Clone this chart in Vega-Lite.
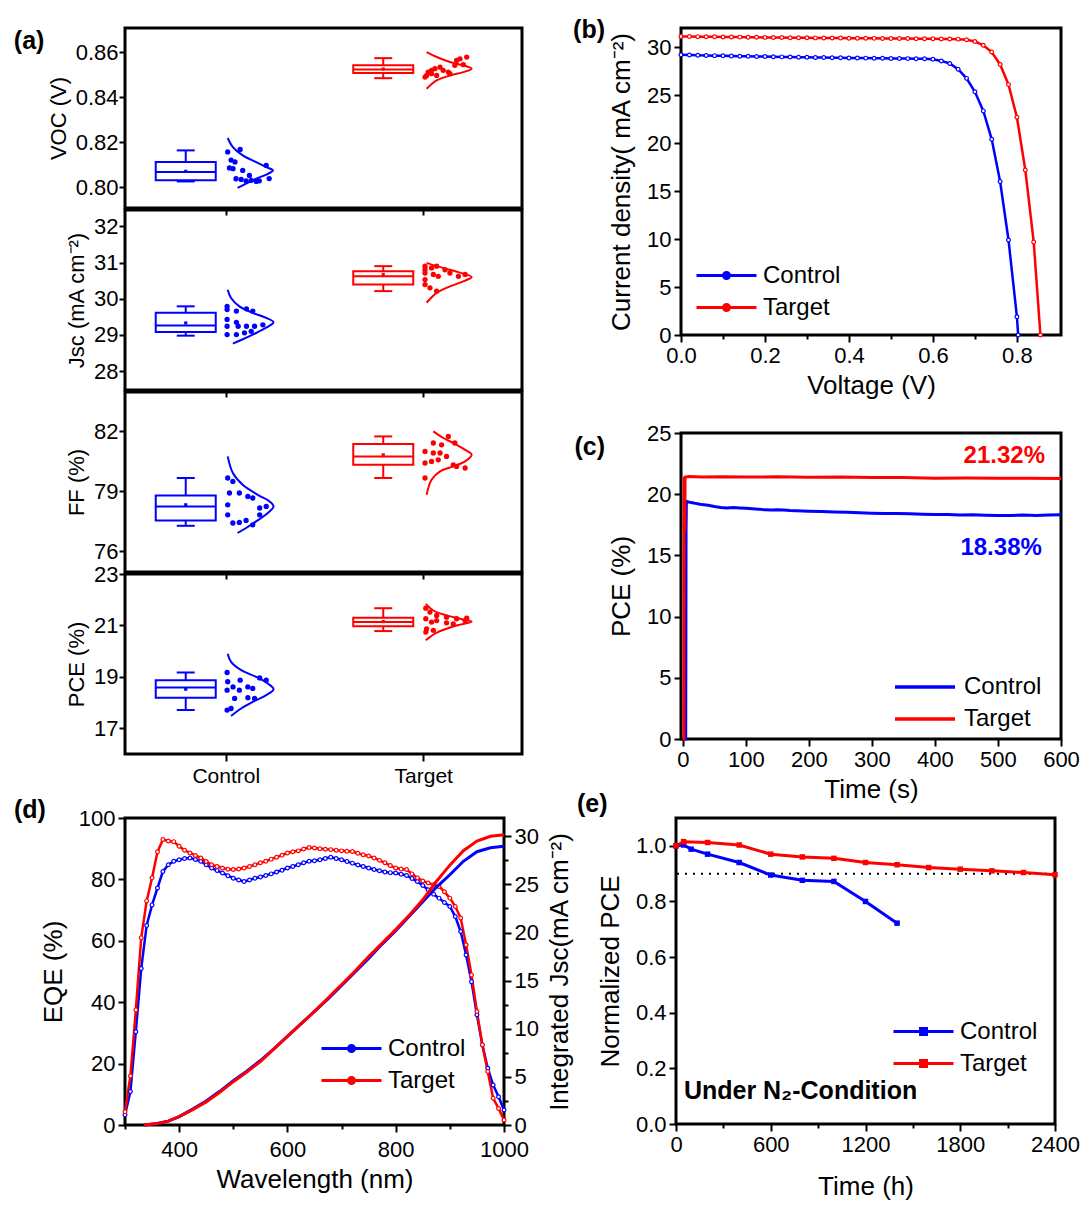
{
"$schema": "https://vega.github.io/schema/vega-lite/v6.json",
"padding": {"left": 12, "top": 16, "right": 0, "bottom": 0},
"background": "white",
"config": {
 "font": "Liberation Sans",
 "view": {"stroke": "black", "strokeWidth": 3},
 "axis": {"domain": false, "grid": false, "tickColor": "black", "tickWidth": 2, "tickSize": 7, "labelFontSize": 22, "labelColor": "black", "titleFontSize": 26, "titleFontWeight": "normal", "titleColor": "black", "labelPadding": 3, "labelOverlap": false, "labelFlush": false},
 "axisX": {"titlePadding": 6},
 "axisY": {"titlePadding": 12},
 "legend": {"labelFontSize": 24, "labelColor": "black", "padding": 0, "title": null},
 "line": {"strokeCap": "butt"}
},
"datasets": {
 "boxVoc": [
  {"s":"Control","g":1,"lo":0.8025,"q1":0.803,"med":0.8067,"q3":0.8111,"hi":0.8163,"mean":0.807},
  {"s":"Target","g":2,"lo":0.8484,"q1":0.8507,"med":0.8523,"q3":0.8541,"hi":0.8573,"mean":0.8525}],
 "boxJsc": [
  {"s":"Control","g":1,"lo":28.98,"q1":29.08,"med":29.26,"q3":29.61,"hi":29.79,"mean":29.33},
  {"s":"Target","g":2,"lo":30.21,"q1":30.39,"med":30.62,"q3":30.76,"hi":30.90,"mean":30.67}],
 "boxFF": [
  {"s":"Control","g":1,"lo":77.28,"q1":77.55,"med":78.25,"q3":78.8,"hi":79.67,"mean":78.33},
  {"s":"Target","g":2,"lo":79.67,"q1":80.33,"med":80.75,"q3":81.37,"hi":81.75,"mean":80.83}],
 "boxPCE": [
  {"s":"Control","g":1,"lo":17.71,"q1":18.19,"med":18.59,"q3":18.87,"hi":19.17,"mean":18.52},
  {"s":"Target","g":2,"lo":20.78,"q1":20.97,"med":21.13,"q3":21.30,"hi":21.67,"mean":21.15}],
 "dotsVoc": [
  {"s":"Control","x":1.01,"v":0.8156},{"s":"Control","x":1.073,"v":0.8167},{"s":"Control","x":1.027,"v":0.812},{"s":"Control","x":1.047,"v":0.8112},{"s":"Control","x":1.019,"v":0.8085},{"s":"Control","x":1.037,"v":0.8082},{"s":"Control","x":1.086,"v":0.8074},{"s":"Control","x":1.12,"v":0.8052},{"s":"Control","x":1.205,"v":0.8096},{"s":"Control","x":1.052,"v":0.8037},{"s":"Control","x":1.078,"v":0.8034},{"s":"Control","x":1.103,"v":0.8027},{"s":"Control","x":1.129,"v":0.803},{"s":"Control","x":1.154,"v":0.8025},{"s":"Control","x":1.17,"v":0.8028},{"s":"Control","x":1.22,"v":0.8038},
  {"s":"Target","x":2.009,"v":0.8489},{"s":"Target","x":2.017,"v":0.8496},{"s":"Target","x":2.025,"v":0.8511},{"s":"Target","x":2.042,"v":0.8519},{"s":"Target","x":2.059,"v":0.8526},{"s":"Target","x":2.085,"v":0.8533},{"s":"Target","x":2.101,"v":0.8519},{"s":"Target","x":2.127,"v":0.8511},{"s":"Target","x":2.135,"v":0.8504},{"s":"Target","x":2.068,"v":0.8496},{"s":"Target","x":2.16,"v":0.8541},{"s":"Target","x":2.169,"v":0.8563},{"s":"Target","x":2.186,"v":0.857},{"s":"Target","x":2.22,"v":0.8578},{"s":"Target","x":2.203,"v":0.8544},{"s":"Target","x":2.042,"v":0.8504}],
 "dotsJsc": [
  {"s":"Control","x":1.007,"v":29.79},{"s":"Control","x":1.007,"v":29.7},{"s":"Control","x":1.054,"v":29.66},{"s":"Control","x":1.105,"v":29.72},{"s":"Control","x":1.137,"v":29.66},{"s":"Control","x":1.007,"v":29.43},{"s":"Control","x":1.054,"v":29.35},{"s":"Control","x":1.007,"v":29.24},{"s":"Control","x":1.063,"v":29.24},{"s":"Control","x":1.105,"v":29.24},{"s":"Control","x":1.146,"v":29.24},{"s":"Control","x":1.188,"v":29.28},{"s":"Control","x":1.007,"v":29.01},{"s":"Control","x":1.054,"v":29.01},{"s":"Control","x":1.095,"v":29.06},{"s":"Control","x":1.129,"v":29.1},
  {"s":"Target","x":2.009,"v":30.9},{"s":"Target","x":2.009,"v":30.8},{"s":"Target","x":2.009,"v":30.71},{"s":"Target","x":2.042,"v":30.85},{"s":"Target","x":2.068,"v":30.9},{"s":"Target","x":2.11,"v":30.8},{"s":"Target","x":2.051,"v":30.67},{"s":"Target","x":2.076,"v":30.62},{"s":"Target","x":2.135,"v":30.71},{"s":"Target","x":2.178,"v":30.62},{"s":"Target","x":2.212,"v":30.67},{"s":"Target","x":2.009,"v":30.39},{"s":"Target","x":2.034,"v":30.3},{"s":"Target","x":2.068,"v":30.21},{"s":"Target","x":2.009,"v":30.53}],
 "dotsFF": [
  {"s":"Control","x":1.01,"v":79.67},{"s":"Control","x":1.036,"v":79.5},{"s":"Control","x":1.019,"v":78.92},{"s":"Control","x":1.069,"v":78.92},{"s":"Control","x":1.112,"v":78.75},{"s":"Control","x":1.137,"v":78.67},{"s":"Control","x":1.01,"v":78.33},{"s":"Control","x":1.172,"v":78.17},{"s":"Control","x":1.205,"v":78.25},{"s":"Control","x":1.01,"v":77.83},{"s":"Control","x":1.036,"v":77.42},{"s":"Control","x":1.069,"v":77.45},{"s":"Control","x":1.103,"v":77.55},{"s":"Control","x":1.137,"v":77.33},{"s":"Control","x":1.172,"v":77.83},
  {"s":"Target","x":2.127,"v":81.75},{"s":"Target","x":2.051,"v":81.42},{"s":"Target","x":2.093,"v":81.33},{"s":"Target","x":2.009,"v":81.0},{"s":"Target","x":2.051,"v":80.92},{"s":"Target","x":2.085,"v":80.92},{"s":"Target","x":2.118,"v":80.75},{"s":"Target","x":2.009,"v":80.42},{"s":"Target","x":2.042,"v":80.5},{"s":"Target","x":2.076,"v":80.58},{"s":"Target","x":2.16,"v":81.42},{"s":"Target","x":2.152,"v":80.33},{"s":"Target","x":2.212,"v":80.17},{"s":"Target","x":2.169,"v":80.25},{"s":"Target","x":2.009,"v":79.67}],
 "dotsPCE": [
  {"s":"Control","x":1.007,"v":19.17},{"s":"Control","x":1.01,"v":18.81},{"s":"Control","x":1.073,"v":18.87},{"s":"Control","x":1.172,"v":18.96},{"s":"Control","x":1.205,"v":18.87},{"s":"Control","x":1.007,"v":18.48},{"s":"Control","x":1.037,"v":18.61},{"s":"Control","x":1.069,"v":18.48},{"s":"Control","x":1.112,"v":18.61},{"s":"Control","x":1.137,"v":18.55},{"s":"Control","x":1.045,"v":18.16},{"s":"Control","x":1.112,"v":18.19},{"s":"Control","x":1.146,"v":18.16},{"s":"Control","x":1.007,"v":17.71},{"s":"Control","x":1.027,"v":17.77},
  {"s":"Target","x":2.013,"v":21.67},{"s":"Target","x":2.034,"v":21.52},{"s":"Target","x":2.068,"v":21.39},{"s":"Target","x":2.118,"v":21.32},{"s":"Target","x":2.169,"v":21.26},{"s":"Target","x":2.22,"v":21.28},{"s":"Target","x":2.013,"v":21.26},{"s":"Target","x":2.042,"v":21.13},{"s":"Target","x":2.068,"v":21.19},{"s":"Target","x":2.118,"v":21.1},{"s":"Target","x":2.152,"v":21.06},{"s":"Target","x":2.017,"v":20.87},{"s":"Target","x":2.051,"v":20.81},{"s":"Target","x":2.013,"v":20.74},{"s":"Target","x":2.212,"v":21.19}],
 "curveVoc": [
  {"s":"Control","i":0,"x":1.01,"v":0.8218},{"s":"Control","i":1,"x":1.036,"v":0.8178},{"s":"Control","i":2,"x":1.086,"v":0.8141},{"s":"Control","i":3,"x":1.154,"v":0.8111},{"s":"Control","i":4,"x":1.205,"v":0.8089},{"s":"Control","i":5,"x":1.239,"v":0.8074},{"s":"Control","i":6,"x":1.213,"v":0.8059},{"s":"Control","i":7,"x":1.154,"v":0.8037},{"s":"Control","i":8,"x":1.103,"v":0.8015},{"s":"Control","i":9,"x":1.06,"v":0.7996},
  {"s":"Target","i":0,"x":2.017,"v":0.86},{"s":"Target","i":1,"x":2.068,"v":0.8578},{"s":"Target","i":2,"x":2.135,"v":0.8556},{"s":"Target","i":3,"x":2.203,"v":0.8541},{"s":"Target","i":4,"x":2.245,"v":0.8526},{"s":"Target","i":5,"x":2.203,"v":0.8511},{"s":"Target","i":6,"x":2.135,"v":0.8496},{"s":"Target","i":7,"x":2.068,"v":0.8474},{"s":"Target","i":8,"x":2.017,"v":0.8437}],
 "curveJsc": [
  {"s":"Control","i":0,"x":1.01,"v":30.25},{"s":"Control","i":1,"x":1.027,"v":30.02},{"s":"Control","i":2,"x":1.069,"v":29.79},{"s":"Control","i":3,"x":1.137,"v":29.61},{"s":"Control","i":4,"x":1.205,"v":29.47},{"s":"Control","i":5,"x":1.242,"v":29.35},{"s":"Control","i":6,"x":1.205,"v":29.2},{"s":"Control","i":7,"x":1.137,"v":29.01},{"s":"Control","i":8,"x":1.078,"v":28.86},{"s":"Control","i":9,"x":1.036,"v":28.76},
  {"s":"Target","i":0,"x":2.017,"v":30.99},{"s":"Target","i":1,"x":2.068,"v":30.9},{"s":"Target","i":2,"x":2.135,"v":30.8},{"s":"Target","i":3,"x":2.203,"v":30.69},{"s":"Target","i":4,"x":2.245,"v":30.6},{"s":"Target","i":5,"x":2.203,"v":30.48},{"s":"Target","i":6,"x":2.135,"v":30.34},{"s":"Target","i":7,"x":2.068,"v":30.16},{"s":"Target","i":8,"x":2.017,"v":29.89}],
 "curveFF": [
  {"s":"Control","i":0,"x":1.01,"v":80.75},{"s":"Control","i":1,"x":1.036,"v":79.92},{"s":"Control","i":2,"x":1.086,"v":79.33},{"s":"Control","i":3,"x":1.162,"v":78.83},{"s":"Control","i":4,"x":1.222,"v":78.5},{"s":"Control","i":5,"x":1.242,"v":78.25},{"s":"Control","i":6,"x":1.213,"v":77.92},{"s":"Control","i":7,"x":1.154,"v":77.5},{"s":"Control","i":8,"x":1.103,"v":77.17},{"s":"Control","i":9,"x":1.06,"v":76.92},
  {"s":"Target","i":0,"x":2.051,"v":82.0},{"s":"Target","i":1,"x":2.102,"v":81.67},{"s":"Target","i":2,"x":2.152,"v":81.42},{"s":"Target","i":3,"x":2.212,"v":81.08},{"s":"Target","i":4,"x":2.245,"v":80.83},{"s":"Target","i":5,"x":2.212,"v":80.5},{"s":"Target","i":6,"x":2.152,"v":80.25},{"s":"Target","i":7,"x":2.085,"v":80.0},{"s":"Target","i":8,"x":2.042,"v":79.58},{"s":"Target","i":9,"x":2.017,"v":78.83}],
 "curvePCE": [
  {"s":"Control","i":0,"x":1.01,"v":19.9},{"s":"Control","i":1,"x":1.027,"v":19.58},{"s":"Control","i":2,"x":1.078,"v":19.26},{"s":"Control","i":3,"x":1.154,"v":19.0},{"s":"Control","i":4,"x":1.213,"v":18.74},{"s":"Control","i":5,"x":1.242,"v":18.52},{"s":"Control","i":6,"x":1.205,"v":18.29},{"s":"Control","i":7,"x":1.137,"v":18.03},{"s":"Control","i":8,"x":1.078,"v":17.77},{"s":"Control","i":9,"x":1.027,"v":17.48},
  {"s":"Target","i":0,"x":2.013,"v":21.84},{"s":"Target","i":1,"x":2.051,"v":21.58},{"s":"Target","i":2,"x":2.118,"v":21.39},{"s":"Target","i":3,"x":2.186,"v":21.26},{"s":"Target","i":4,"x":2.245,"v":21.15},{"s":"Target","i":5,"x":2.186,"v":21.03},{"s":"Target","i":6,"x":2.118,"v":20.87},{"s":"Target","i":7,"x":2.059,"v":20.68},{"s":"Target","i":8,"x":2.013,"v":20.42}],
 "jv": [
  {"s":"Control","v":0,"j":29.2},{"s":"Control","v":0.02,"j":29.18},{"s":"Control","v":0.04,"j":29.16},{"s":"Control","v":0.06,"j":29.14},{"s":"Control","v":0.08,"j":29.12},{"s":"Control","v":0.1,"j":29.1},{"s":"Control","v":0.12,"j":29.08},{"s":"Control","v":0.14,"j":29.06},{"s":"Control","v":0.16,"j":29.05},{"s":"Control","v":0.18,"j":29.03},{"s":"Control","v":0.2,"j":29.02},{"s":"Control","v":0.22,"j":29.0},{"s":"Control","v":0.24,"j":28.99},{"s":"Control","v":0.26,"j":28.97},{"s":"Control","v":0.28,"j":28.96},{"s":"Control","v":0.3,"j":28.95},{"s":"Control","v":0.32,"j":28.93},{"s":"Control","v":0.34,"j":28.92},{"s":"Control","v":0.36,"j":28.9},{"s":"Control","v":0.38,"j":28.89},{"s":"Control","v":0.4,"j":28.88},{"s":"Control","v":0.42,"j":28.87},{"s":"Control","v":0.44,"j":28.86},{"s":"Control","v":0.46,"j":28.85},{"s":"Control","v":0.48,"j":28.84},{"s":"Control","v":0.5,"j":28.83},{"s":"Control","v":0.52,"j":28.82},{"s":"Control","v":0.54,"j":28.81},{"s":"Control","v":0.56,"j":28.8},{"s":"Control","v":0.58,"j":28.79},{"s":"Control","v":0.6,"j":28.74},{"s":"Control","v":0.62,"j":28.57},{"s":"Control","v":0.64,"j":28.3},{"s":"Control","v":0.66,"j":27.7},{"s":"Control","v":0.68,"j":26.75},{"s":"Control","v":0.7,"j":25.35},{"s":"Control","v":0.72,"j":23.36},{"s":"Control","v":0.74,"j":20.4},{"s":"Control","v":0.76,"j":16.0},{"s":"Control","v":0.78,"j":9.9},{"s":"Control","v":0.8,"j":1.9},{"s":"Control","v":0.803,"j":0},
  {"s":"Target","v":0,"j":31.12},{"s":"Target","v":0.02,"j":31.11},{"s":"Target","v":0.04,"j":31.1},{"s":"Target","v":0.06,"j":31.09},{"s":"Target","v":0.08,"j":31.08},{"s":"Target","v":0.1,"j":31.07},{"s":"Target","v":0.12,"j":31.06},{"s":"Target","v":0.14,"j":31.05},{"s":"Target","v":0.16,"j":31.04},{"s":"Target","v":0.18,"j":31.03},{"s":"Target","v":0.2,"j":31.02},{"s":"Target","v":0.22,"j":31.01},{"s":"Target","v":0.24,"j":31.0},{"s":"Target","v":0.26,"j":30.99},{"s":"Target","v":0.28,"j":30.98},{"s":"Target","v":0.3,"j":30.98},{"s":"Target","v":0.32,"j":30.97},{"s":"Target","v":0.34,"j":30.96},{"s":"Target","v":0.36,"j":30.95},{"s":"Target","v":0.38,"j":30.95},{"s":"Target","v":0.4,"j":30.94},{"s":"Target","v":0.42,"j":30.93},{"s":"Target","v":0.44,"j":30.93},{"s":"Target","v":0.46,"j":30.92},{"s":"Target","v":0.48,"j":30.91},{"s":"Target","v":0.5,"j":30.91},{"s":"Target","v":0.52,"j":30.9},{"s":"Target","v":0.54,"j":30.9},{"s":"Target","v":0.56,"j":30.89},{"s":"Target","v":0.58,"j":30.88},{"s":"Target","v":0.6,"j":30.87},{"s":"Target","v":0.62,"j":30.86},{"s":"Target","v":0.64,"j":30.85},{"s":"Target","v":0.66,"j":30.84},{"s":"Target","v":0.68,"j":30.78},{"s":"Target","v":0.7,"j":30.6},{"s":"Target","v":0.72,"j":30.2},{"s":"Target","v":0.74,"j":29.5},{"s":"Target","v":0.76,"j":28.2},{"s":"Target","v":0.78,"j":26.1},{"s":"Target","v":0.8,"j":22.7},{"s":"Target","v":0.82,"j":17.2},{"s":"Target","v":0.84,"j":9.7},{"s":"Target","v":0.856,"j":0}
 ],
 "pce": [
  {"s":"Control","t":0,"p":0},{"s":"Control","t":4.5,"p":0},{"s":"Control","t":5,"p":17.0},{"s":"Control","t":5.5,"p":19.2},{"s":"Control","t":7,"p":19.4},{"s":"Control","t":10,"p":19.35},{"s":"Control","t":15,"p":19.3},{"s":"Control","t":20,"p":19.25},{"s":"Control","t":25,"p":19.2},{"s":"Control","t":30,"p":19.15},{"s":"Control","t":40,"p":19.1},{"s":"Control","t":50,"p":19.0},{"s":"Control","t":60,"p":18.92},{"s":"Control","t":70,"p":18.88},{"s":"Control","t":80,"p":18.92},{"s":"Control","t":90,"p":18.88},{"s":"Control","t":100,"p":18.85},{"s":"Control","t":110,"p":18.82},{"s":"Control","t":120,"p":18.78},{"s":"Control","t":130,"p":18.72},{"s":"Control","t":140,"p":18.7},{"s":"Control","t":150,"p":18.72},{"s":"Control","t":160,"p":18.7},{"s":"Control","t":170,"p":18.66},{"s":"Control","t":180,"p":18.64},{"s":"Control","t":200,"p":18.6},{"s":"Control","t":220,"p":18.58},{"s":"Control","t":240,"p":18.54},{"s":"Control","t":260,"p":18.52},{"s":"Control","t":280,"p":18.48},{"s":"Control","t":300,"p":18.45},{"s":"Control","t":320,"p":18.42},{"s":"Control","t":340,"p":18.42},{"s":"Control","t":360,"p":18.4},{"s":"Control","t":380,"p":18.36},{"s":"Control","t":400,"p":18.34},{"s":"Control","t":420,"p":18.35},{"s":"Control","t":440,"p":18.3},{"s":"Control","t":460,"p":18.32},{"s":"Control","t":480,"p":18.28},{"s":"Control","t":500,"p":18.26},{"s":"Control","t":520,"p":18.26},{"s":"Control","t":540,"p":18.3},{"s":"Control","t":560,"p":18.27},{"s":"Control","t":580,"p":18.3},{"s":"Control","t":600,"p":18.32},
  {"s":"Target","t":0,"p":0},{"s":"Target","t":1.5,"p":0},{"s":"Target","t":2,"p":21.4},{"s":"Target","t":3,"p":17.0},{"s":"Target","t":3.5,"p":21.4},{"s":"Target","t":10,"p":21.45},{"s":"Target","t":30,"p":21.4},{"s":"Target","t":60,"p":21.42},{"s":"Target","t":100,"p":21.4},{"s":"Target","t":150,"p":21.42},{"s":"Target","t":200,"p":21.38},{"s":"Target","t":250,"p":21.4},{"s":"Target","t":300,"p":21.36},{"s":"Target","t":350,"p":21.36},{"s":"Target","t":400,"p":21.3},{"s":"Target","t":450,"p":21.32},{"s":"Target","t":500,"p":21.3},{"s":"Target","t":550,"p":21.3},{"s":"Target","t":600,"p":21.28}
 ],
 "pceText": [
  {"s":"Target","t":510,"p":23.1,"label":"21.32%"},
  {"s":"Control","t":505,"p":15.6,"label":"18.38%"}
 ],
 "eqe": [
  {"s":"Control","w":300,"e":3.3},{"s":"Control","w":310,"e":10.9},{"s":"Control","w":320,"e":30.4},{"s":"Control","w":330,"e":51},{"s":"Control","w":340,"e":65},{"s":"Control","w":350,"e":71.7},{"s":"Control","w":360,"e":77.2},{"s":"Control","w":370,"e":82.6},{"s":"Control","w":380,"e":84.8},{"s":"Control","w":390,"e":85.9},{"s":"Control","w":400,"e":86.4},{"s":"Control","w":410,"e":86.8},{"s":"Control","w":420,"e":87.0},{"s":"Control","w":430,"e":86.5},{"s":"Control","w":440,"e":85.9},{"s":"Control","w":450,"e":84.8},{"s":"Control","w":460,"e":83.7},{"s":"Control","w":470,"e":82.9},{"s":"Control","w":480,"e":82.1},{"s":"Control","w":490,"e":81.2},{"s":"Control","w":500,"e":80.4},{"s":"Control","w":510,"e":79.8},{"s":"Control","w":520,"e":79.3},{"s":"Control","w":530,"e":79.8},{"s":"Control","w":540,"e":80.4},{"s":"Control","w":550,"e":80.8},{"s":"Control","w":560,"e":81.3},{"s":"Control","w":570,"e":81.8},{"s":"Control","w":580,"e":82.4},{"s":"Control","w":590,"e":83.0},{"s":"Control","w":600,"e":83.7},{"s":"Control","w":610,"e":84.2},{"s":"Control","w":620,"e":84.8},{"s":"Control","w":630,"e":85.4},{"s":"Control","w":640,"e":85.9},{"s":"Control","w":650,"e":86.1},{"s":"Control","w":660,"e":86.4},{"s":"Control","w":670,"e":86.8},{"s":"Control","w":680,"e":87.2},{"s":"Control","w":690,"e":86.8},{"s":"Control","w":700,"e":86.4},{"s":"Control","w":710,"e":85.8},{"s":"Control","w":720,"e":85.3},{"s":"Control","w":730,"e":84.7},{"s":"Control","w":740,"e":84.2},{"s":"Control","w":750,"e":83.7},{"s":"Control","w":760,"e":83.2},{"s":"Control","w":770,"e":82.8},{"s":"Control","w":780,"e":82.4},{"s":"Control","w":790,"e":82.2},{"s":"Control","w":800,"e":82.1},{"s":"Control","w":810,"e":81.7},{"s":"Control","w":820,"e":81.3},{"s":"Control","w":830,"e":80.3},{"s":"Control","w":840,"e":79.3},{"s":"Control","w":850,"e":78.0},{"s":"Control","w":860,"e":76.6},{"s":"Control","w":870,"e":75.2},{"s":"Control","w":880,"e":73.9},{"s":"Control","w":890,"e":72.5},{"s":"Control","w":900,"e":71.2},{"s":"Control","w":910,"e":67.9},{"s":"Control","w":920,"e":63.0},{"s":"Control","w":930,"e":55.4},{"s":"Control","w":940,"e":46.7},{"s":"Control","w":950,"e":35.9},{"s":"Control","w":960,"e":26.1},{"s":"Control","w":970,"e":18.5},{"s":"Control","w":980,"e":13.0},{"s":"Control","w":990,"e":9.2},{"s":"Control","w":1000,"e":4.9},
  {"s":"Target","w":300,"e":4.3},{"s":"Target","w":310,"e":16},{"s":"Target","w":320,"e":37.5},{"s":"Target","w":330,"e":61},{"s":"Target","w":340,"e":73},{"s":"Target","w":350,"e":80.5},{"s":"Target","w":360,"e":89},{"s":"Target","w":370,"e":93},{"s":"Target","w":380,"e":92.5},{"s":"Target","w":390,"e":92.3},{"s":"Target","w":400,"e":90.8},{"s":"Target","w":410,"e":89.5},{"s":"Target","w":420,"e":88.6},{"s":"Target","w":430,"e":87.8},{"s":"Target","w":440,"e":87.0},{"s":"Target","w":450,"e":85.8},{"s":"Target","w":460,"e":84.8},{"s":"Target","w":470,"e":84.2},{"s":"Target","w":480,"e":83.7},{"s":"Target","w":490,"e":83.3},{"s":"Target","w":500,"e":83.2},{"s":"Target","w":510,"e":83.4},{"s":"Target","w":520,"e":83.7},{"s":"Target","w":530,"e":84.2},{"s":"Target","w":540,"e":84.8},{"s":"Target","w":550,"e":85.4},{"s":"Target","w":560,"e":85.9},{"s":"Target","w":570,"e":86.6},{"s":"Target","w":580,"e":87.2},{"s":"Target","w":590,"e":87.9},{"s":"Target","w":600,"e":88.6},{"s":"Target","w":610,"e":89.0},{"s":"Target","w":620,"e":89.3},{"s":"Target","w":630,"e":89.9},{"s":"Target","w":640,"e":90.4},{"s":"Target","w":650,"e":90.2},{"s":"Target","w":660,"e":90.0},{"s":"Target","w":670,"e":89.8},{"s":"Target","w":680,"e":89.7},{"s":"Target","w":690,"e":89.5},{"s":"Target","w":700,"e":89.3},{"s":"Target","w":710,"e":89.2},{"s":"Target","w":720,"e":89.1},{"s":"Target","w":730,"e":88.5},{"s":"Target","w":740,"e":88.0},{"s":"Target","w":750,"e":87.6},{"s":"Target","w":760,"e":87.0},{"s":"Target","w":770,"e":86.2},{"s":"Target","w":780,"e":85.4},{"s":"Target","w":790,"e":84.5},{"s":"Target","w":800,"e":83.7},{"s":"Target","w":810,"e":83.4},{"s":"Target","w":820,"e":83.2},{"s":"Target","w":830,"e":81.8},{"s":"Target","w":840,"e":80.5},{"s":"Target","w":850,"e":79.5},{"s":"Target","w":860,"e":78.8},{"s":"Target","w":870,"e":78.3},{"s":"Target","w":880,"e":77.7},{"s":"Target","w":890,"e":76.0},{"s":"Target","w":900,"e":73.9},{"s":"Target","w":910,"e":71.2},{"s":"Target","w":920,"e":67.4},{"s":"Target","w":930,"e":58.7},{"s":"Target","w":940,"e":48.9},{"s":"Target","w":950,"e":37.0},{"s":"Target","w":960,"e":26.1},{"s":"Target","w":970,"e":17.4},{"s":"Target","w":980,"e":8.7},{"s":"Target","w":990,"e":5.4},{"s":"Target","w":1000,"e":1.6}
 ],
 "ij": [
  {"s":"Control","w":335,"j":0},{"s":"Control","w":360,"j":0.15},{"s":"Control","w":380,"j":0.4},{"s":"Control","w":400,"j":0.87},{"s":"Control","w":425,"j":1.65},{"s":"Control","w":450,"j":2.5},{"s":"Control","w":475,"j":3.5},{"s":"Control","w":500,"j":4.6},{"s":"Control","w":525,"j":5.6},{"s":"Control","w":550,"j":6.7},{"s":"Control","w":575,"j":7.9},{"s":"Control","w":600,"j":9.2},{"s":"Control","w":625,"j":10.5},{"s":"Control","w":650,"j":11.8},{"s":"Control","w":675,"j":13.1},{"s":"Control","w":700,"j":14.5},{"s":"Control","w":725,"j":15.9},{"s":"Control","w":750,"j":17.3},{"s":"Control","w":775,"j":18.8},{"s":"Control","w":800,"j":20.2},{"s":"Control","w":825,"j":21.7},{"s":"Control","w":850,"j":23.2},{"s":"Control","w":875,"j":24.7},{"s":"Control","w":900,"j":26.0},{"s":"Control","w":925,"j":27.4},{"s":"Control","w":950,"j":28.4},{"s":"Control","w":975,"j":28.8},{"s":"Control","w":1000,"j":28.96},
  {"s":"Target","w":335,"j":0},{"s":"Target","w":360,"j":0.15},{"s":"Target","w":380,"j":0.4},{"s":"Target","w":400,"j":0.87},{"s":"Target","w":425,"j":1.6},{"s":"Target","w":450,"j":2.4},{"s":"Target","w":475,"j":3.4},{"s":"Target","w":500,"j":4.5},{"s":"Target","w":525,"j":5.5},{"s":"Target","w":550,"j":6.6},{"s":"Target","w":575,"j":7.9},{"s":"Target","w":600,"j":9.2},{"s":"Target","w":625,"j":10.5},{"s":"Target","w":650,"j":11.8},{"s":"Target","w":675,"j":13.2},{"s":"Target","w":700,"j":14.6},{"s":"Target","w":725,"j":16.0},{"s":"Target","w":750,"j":17.5},{"s":"Target","w":775,"j":18.9},{"s":"Target","w":800,"j":20.3},{"s":"Target","w":825,"j":21.8},{"s":"Target","w":850,"j":23.4},{"s":"Target","w":875,"j":25.3},{"s":"Target","w":900,"j":27.0},{"s":"Target","w":925,"j":28.5},{"s":"Target","w":950,"j":29.5},{"s":"Target","w":975,"j":30.0},{"s":"Target","w":1000,"j":30.17}
 ],
 "stab": [
  {"s":"Control","t":0,"n":1.0},{"s":"Control","t":48,"n":1.003},{"s":"Control","t":96,"n":0.988},{"s":"Control","t":200,"n":0.97},{"s":"Control","t":400,"n":0.94},{"s":"Control","t":600,"n":0.895},{"s":"Control","t":800,"n":0.876},{"s":"Control","t":1000,"n":0.872},{"s":"Control","t":1200,"n":0.8},{"s":"Control","t":1400,"n":0.722},
  {"s":"Target","t":0,"n":1.0},{"s":"Target","t":48,"n":1.015},{"s":"Target","t":200,"n":1.012},{"s":"Target","t":400,"n":1.003},{"s":"Target","t":600,"n":0.97},{"s":"Target","t":800,"n":0.96},{"s":"Target","t":1000,"n":0.955},{"s":"Target","t":1200,"n":0.94},{"s":"Target","t":1400,"n":0.932},{"s":"Target","t":1600,"n":0.922},{"s":"Target","t":1800,"n":0.916},{"s":"Target","t":2000,"n":0.91},{"s":"Target","t":2200,"n":0.904},{"s":"Target","t":2400,"n":0.896}
 ]
},
"resolve": {"scale": {"color": "independent", "stroke": "independent"}, "legend": {"color": "independent", "stroke": "independent"}},
"vconcat": [
 {"resolve": {"scale": {"color": "independent", "stroke": "independent"}, "legend": {"color": "independent", "stroke": "independent"}},
  "hconcat": [
  {"resolve": {"scale": {"color": "independent", "stroke": "independent"}, "legend": {"color": "independent", "stroke": "independent"}},
   "vconcat": [
   {"width": 397, "height": 180, "layer": [
    {"data": {"name": "boxVoc"}, "mark": {"type": "rule", "xOffset": -40, "strokeWidth": 2}, "encoding": {"x": {"field": "g", "type": "quantitative", "scale": {"domain": [0.49, 2.5], "nice": false, "zero": false}, "axis": {"values": [1, 2], "labels": false, "title": null}}, "y": {"field": "lo", "type": "quantitative", "scale": {"domain": [0.7907, 0.8707], "nice": false, "zero": false}, "axis": {"values": [0.8, 0.82, 0.84, 0.86], "format": ".2f", "title": "VOC (V)", "labelFontSize": 22, "titleFontSize": 22, "tickSize": 6, "labelPadding": 1, "titlePadding": 5}}, "y2": {"field": "hi"}, "color": {"field": "s", "type": "nominal", "scale": {"domain": ["Control", "Target"], "range": ["#0000ff", "#ff0000"]}, "legend": null}}},
    {"data": {"name": "boxVoc"}, "mark": {"type": "rule", "xOffset": -49, "x2Offset": -31, "strokeWidth": 2}, "encoding": {"x": {"field": "g", "type": "quantitative"}, "x2": {"field": "g"}, "y": {"field": "hi", "type": "quantitative"}, "color": {"field": "s", "type": "nominal", "legend": null}}},
    {"data": {"name": "boxVoc"}, "mark": {"type": "rule", "xOffset": -49, "x2Offset": -31, "strokeWidth": 2}, "encoding": {"x": {"field": "g", "type": "quantitative"}, "x2": {"field": "g"}, "y": {"field": "lo", "type": "quantitative"}, "color": {"field": "s", "type": "nominal", "legend": null}}},
    {"data": {"name": "boxVoc"}, "mark": {"type": "rect", "xOffset": -70, "x2Offset": -10, "fill": "white", "strokeWidth": 2}, "encoding": {"x": {"field": "g", "type": "quantitative"}, "x2": {"field": "g"}, "y": {"field": "q1", "type": "quantitative"}, "y2": {"field": "q3"}, "stroke": {"field": "s", "type": "nominal", "scale": {"domain": ["Control", "Target"], "range": ["#0000ff", "#ff0000"]}, "legend": null}}},
    {"data": {"name": "boxVoc"}, "mark": {"type": "rule", "xOffset": -70, "x2Offset": -10, "strokeWidth": 2}, "encoding": {"x": {"field": "g", "type": "quantitative"}, "x2": {"field": "g"}, "y": {"field": "med", "type": "quantitative"}, "color": {"field": "s", "type": "nominal", "legend": null}}},
    {"data": {"name": "boxVoc"}, "mark": {"type": "point", "shape": "square", "filled": true, "size": 10, "xOffset": -40, "opacity": 1}, "encoding": {"x": {"field": "g", "type": "quantitative"}, "y": {"field": "mean", "type": "quantitative"}, "color": {"field": "s", "type": "nominal", "legend": null}}},
    {"data": {"name": "dotsVoc"}, "mark": {"type": "circle", "size": 28, "opacity": 1}, "encoding": {"x": {"field": "x", "type": "quantitative"}, "y": {"field": "v", "type": "quantitative"}, "color": {"field": "s", "type": "nominal", "legend": null}}},
    {"data": {"name": "curveVoc"}, "mark": {"type": "line", "interpolate": "catmull-rom", "strokeWidth": 2}, "encoding": {"x": {"field": "x", "type": "quantitative"}, "y": {"field": "v", "type": "quantitative"}, "order": {"field": "i"}, "color": {"field": "s", "type": "nominal", "legend": null}}},
    {"data": {"values": [{}]}, "mark": {"type": "text", "text": "(a)", "align": "left", "baseline": "top", "fontSize": 25, "fontWeight": "bold"}, "encoding": {"x": {"datum": -0.073}, "y": {"datum": 0.87026}}}
   ]},
   {"width": 397, "height": 180, "layer": [
    {"data": {"name": "boxJsc"}, "mark": {"type": "rule", "xOffset": -40, "strokeWidth": 2}, "encoding": {"x": {"field": "g", "type": "quantitative", "scale": {"domain": [0.49, 2.5], "nice": false, "zero": false}, "axis": {"values": [1, 2], "labels": false, "title": null}}, "y": {"field": "lo", "type": "quantitative", "scale": {"domain": [27.48, 32.45], "nice": false, "zero": false}, "axis": {"values": [28, 29, 30, 31, 32], "title": "Jsc (mA cm⁻²)", "labelFontSize": 22, "titleFontSize": 22, "tickSize": 6, "labelPadding": 1, "titlePadding": 5}}, "y2": {"field": "hi"}, "color": {"field": "s", "type": "nominal", "scale": {"domain": ["Control", "Target"], "range": ["#0000ff", "#ff0000"]}, "legend": null}}},
    {"data": {"name": "boxJsc"}, "mark": {"type": "rule", "xOffset": -49, "x2Offset": -31, "strokeWidth": 2}, "encoding": {"x": {"field": "g", "type": "quantitative"}, "x2": {"field": "g"}, "y": {"field": "hi", "type": "quantitative"}, "color": {"field": "s", "type": "nominal", "legend": null}}},
    {"data": {"name": "boxJsc"}, "mark": {"type": "rule", "xOffset": -49, "x2Offset": -31, "strokeWidth": 2}, "encoding": {"x": {"field": "g", "type": "quantitative"}, "x2": {"field": "g"}, "y": {"field": "lo", "type": "quantitative"}, "color": {"field": "s", "type": "nominal", "legend": null}}},
    {"data": {"name": "boxJsc"}, "mark": {"type": "rect", "xOffset": -70, "x2Offset": -10, "fill": "white", "strokeWidth": 2}, "encoding": {"x": {"field": "g", "type": "quantitative"}, "x2": {"field": "g"}, "y": {"field": "q1", "type": "quantitative"}, "y2": {"field": "q3"}, "stroke": {"field": "s", "type": "nominal", "scale": {"domain": ["Control", "Target"], "range": ["#0000ff", "#ff0000"]}, "legend": null}}},
    {"data": {"name": "boxJsc"}, "mark": {"type": "rule", "xOffset": -70, "x2Offset": -10, "strokeWidth": 2}, "encoding": {"x": {"field": "g", "type": "quantitative"}, "x2": {"field": "g"}, "y": {"field": "med", "type": "quantitative"}, "color": {"field": "s", "type": "nominal", "legend": null}}},
    {"data": {"name": "boxJsc"}, "mark": {"type": "point", "shape": "square", "filled": true, "size": 10, "xOffset": -40, "opacity": 1}, "encoding": {"x": {"field": "g", "type": "quantitative"}, "y": {"field": "mean", "type": "quantitative"}, "color": {"field": "s", "type": "nominal", "legend": null}}},
    {"data": {"name": "dotsJsc"}, "mark": {"type": "circle", "size": 28, "opacity": 1}, "encoding": {"x": {"field": "x", "type": "quantitative"}, "y": {"field": "v", "type": "quantitative"}, "color": {"field": "s", "type": "nominal", "legend": null}}},
    {"data": {"name": "curveJsc"}, "mark": {"type": "line", "interpolate": "catmull-rom", "strokeWidth": 2}, "encoding": {"x": {"field": "x", "type": "quantitative"}, "y": {"field": "v", "type": "quantitative"}, "order": {"field": "i"}, "color": {"field": "s", "type": "nominal", "legend": null}}}
   ]},
   {"width": 397, "height": 180, "layer": [
    {"data": {"name": "boxFF"}, "mark": {"type": "rule", "xOffset": -40, "strokeWidth": 2}, "encoding": {"x": {"field": "g", "type": "quantitative", "scale": {"domain": [0.49, 2.5], "nice": false, "zero": false}, "axis": {"values": [1, 2], "labels": false, "title": null}}, "y": {"field": "lo", "type": "quantitative", "scale": {"domain": [74.97, 83.97], "nice": false, "zero": false}, "axis": {"values": [76, 79, 82], "title": "FF (%)", "labelFontSize": 22, "titleFontSize": 22, "tickSize": 6, "labelPadding": 1, "titlePadding": 5}}, "y2": {"field": "hi"}, "color": {"field": "s", "type": "nominal", "scale": {"domain": ["Control", "Target"], "range": ["#0000ff", "#ff0000"]}, "legend": null}}},
    {"data": {"name": "boxFF"}, "mark": {"type": "rule", "xOffset": -49, "x2Offset": -31, "strokeWidth": 2}, "encoding": {"x": {"field": "g", "type": "quantitative"}, "x2": {"field": "g"}, "y": {"field": "hi", "type": "quantitative"}, "color": {"field": "s", "type": "nominal", "legend": null}}},
    {"data": {"name": "boxFF"}, "mark": {"type": "rule", "xOffset": -49, "x2Offset": -31, "strokeWidth": 2}, "encoding": {"x": {"field": "g", "type": "quantitative"}, "x2": {"field": "g"}, "y": {"field": "lo", "type": "quantitative"}, "color": {"field": "s", "type": "nominal", "legend": null}}},
    {"data": {"name": "boxFF"}, "mark": {"type": "rect", "xOffset": -70, "x2Offset": -10, "fill": "white", "strokeWidth": 2}, "encoding": {"x": {"field": "g", "type": "quantitative"}, "x2": {"field": "g"}, "y": {"field": "q1", "type": "quantitative"}, "y2": {"field": "q3"}, "stroke": {"field": "s", "type": "nominal", "scale": {"domain": ["Control", "Target"], "range": ["#0000ff", "#ff0000"]}, "legend": null}}},
    {"data": {"name": "boxFF"}, "mark": {"type": "rule", "xOffset": -70, "x2Offset": -10, "strokeWidth": 2}, "encoding": {"x": {"field": "g", "type": "quantitative"}, "x2": {"field": "g"}, "y": {"field": "med", "type": "quantitative"}, "color": {"field": "s", "type": "nominal", "legend": null}}},
    {"data": {"name": "boxFF"}, "mark": {"type": "point", "shape": "square", "filled": true, "size": 10, "xOffset": -40, "opacity": 1}, "encoding": {"x": {"field": "g", "type": "quantitative"}, "y": {"field": "mean", "type": "quantitative"}, "color": {"field": "s", "type": "nominal", "legend": null}}},
    {"data": {"name": "dotsFF"}, "mark": {"type": "circle", "size": 28, "opacity": 1}, "encoding": {"x": {"field": "x", "type": "quantitative"}, "y": {"field": "v", "type": "quantitative"}, "color": {"field": "s", "type": "nominal", "legend": null}}},
    {"data": {"name": "curveFF"}, "mark": {"type": "line", "interpolate": "catmull-rom", "strokeWidth": 2}, "encoding": {"x": {"field": "x", "type": "quantitative"}, "y": {"field": "v", "type": "quantitative"}, "order": {"field": "i"}, "color": {"field": "s", "type": "nominal", "legend": null}}}
   ]},
   {"width": 397, "height": 180, "layer": [
    {"data": {"name": "boxPCE"}, "mark": {"type": "rule", "xOffset": -40, "strokeWidth": 2}, "encoding": {"x": {"field": "g", "type": "quantitative", "scale": {"domain": [0.49, 2.5], "nice": false, "zero": false}, "axis": {"values": [1, 2], "title": null, "labelExpr": "datum.value == 1 ? 'Control' : 'Target'", "labelFontSize": 21, "labelPadding": 4}}, "y": {"field": "lo", "type": "quantitative", "scale": {"domain": [16.0, 23.0], "nice": false, "zero": false}, "axis": {"values": [17, 19, 21, 23], "title": "PCE (%)", "labelFontSize": 22, "titleFontSize": 22, "tickSize": 6, "labelPadding": 1, "titlePadding": 5}}, "y2": {"field": "hi"}, "color": {"field": "s", "type": "nominal", "scale": {"domain": ["Control", "Target"], "range": ["#0000ff", "#ff0000"]}, "legend": null}}},
    {"data": {"name": "boxPCE"}, "mark": {"type": "rule", "xOffset": -49, "x2Offset": -31, "strokeWidth": 2}, "encoding": {"x": {"field": "g", "type": "quantitative"}, "x2": {"field": "g"}, "y": {"field": "hi", "type": "quantitative"}, "color": {"field": "s", "type": "nominal", "legend": null}}},
    {"data": {"name": "boxPCE"}, "mark": {"type": "rule", "xOffset": -49, "x2Offset": -31, "strokeWidth": 2}, "encoding": {"x": {"field": "g", "type": "quantitative"}, "x2": {"field": "g"}, "y": {"field": "lo", "type": "quantitative"}, "color": {"field": "s", "type": "nominal", "legend": null}}},
    {"data": {"name": "boxPCE"}, "mark": {"type": "rect", "xOffset": -70, "x2Offset": -10, "fill": "white", "strokeWidth": 2}, "encoding": {"x": {"field": "g", "type": "quantitative"}, "x2": {"field": "g"}, "y": {"field": "q1", "type": "quantitative"}, "y2": {"field": "q3"}, "stroke": {"field": "s", "type": "nominal", "scale": {"domain": ["Control", "Target"], "range": ["#0000ff", "#ff0000"]}, "legend": null}}},
    {"data": {"name": "boxPCE"}, "mark": {"type": "rule", "xOffset": -70, "x2Offset": -10, "strokeWidth": 2}, "encoding": {"x": {"field": "g", "type": "quantitative"}, "x2": {"field": "g"}, "y": {"field": "med", "type": "quantitative"}, "color": {"field": "s", "type": "nominal", "legend": null}}},
    {"data": {"name": "boxPCE"}, "mark": {"type": "point", "shape": "square", "filled": true, "size": 10, "xOffset": -40, "opacity": 1}, "encoding": {"x": {"field": "g", "type": "quantitative"}, "y": {"field": "mean", "type": "quantitative"}, "color": {"field": "s", "type": "nominal", "legend": null}}},
    {"data": {"name": "dotsPCE"}, "mark": {"type": "circle", "size": 28, "opacity": 1}, "encoding": {"x": {"field": "x", "type": "quantitative"}, "y": {"field": "v", "type": "quantitative"}, "color": {"field": "s", "type": "nominal", "legend": null}}},
    {"data": {"name": "curvePCE"}, "mark": {"type": "line", "interpolate": "catmull-rom", "strokeWidth": 2}, "encoding": {"x": {"field": "x", "type": "quantitative"}, "y": {"field": "v", "type": "quantitative"}, "order": {"field": "i"}, "color": {"field": "s", "type": "nominal", "legend": null}}}
   ]}
  ], "spacing": 2, "bounds": "flush"},
  {"resolve": {"scale": {"color": "independent", "stroke": "independent"}, "legend": {"color": "independent", "stroke": "independent"}},
   "vconcat": [
   {"width": 380, "height": 307, "layer": [
    {"data": {"name": "jv"}, "mark": {"type": "line", "strokeWidth": 2.5}, "encoding": {
      "x": {"field": "v", "type": "quantitative", "scale": {"domain": [0, 0.905], "nice": false}, "axis": {"values": [0, 0.1, 0.2, 0.3, 0.4, 0.5, 0.6, 0.7, 0.8], "title": "Voltage (V)", "labelExpr": "abs(datum.value*5 - round(datum.value*5)) < 0.0001 ? format(datum.value, '.1f') : ''", "tickSize": {"condition": {"test": "abs(datum.value*5 - round(datum.value*5)) < 0.0001", "value": 7}, "value": 4}}},
      "y": {"field": "j", "type": "quantitative", "scale": {"domain": [0, 32], "nice": false}, "axis": {"values": [0, 2.5, 5, 7.5, 10, 12.5, 15, 17.5, 20, 22.5, 25, 27.5, 30], "title": "Current density( mA cm⁻²)", "labelExpr": "datum.value % 5 == 0 ? datum.label : ''", "tickSize": {"condition": {"test": "datum.value % 5 == 0", "value": 7}, "value": 4}}},
      "color": {"field": "s", "type": "nominal", "scale": {"domain": ["Control", "Target"], "range": ["#0000ff", "#ff0000"]}, "legend": {"orient": "none", "legendX": 32, "legendY": 234, "symbolType": "M-2.5,0H2.5M0.25,0A0.25,0.25 0 1,1 -0.25,0A0.25,0.25 0 1,1 0.25,0", "symbolSize": 576, "symbolStrokeWidth": 3, "symbolFillColor": "white", "rowPadding": 6, "labelOffset": 23}}}},
    {"data": {"name": "jv"}, "mark": {"type": "point", "filled": false, "fill": "white", "size": 14, "strokeWidth": 1.2, "opacity": 1}, "encoding": {"x": {"field": "v", "type": "quantitative"}, "y": {"field": "j", "type": "quantitative"}, "color": {"field": "s", "type": "nominal"}}},
    {"data": {"values": [{}]}, "mark": {"type": "text", "text": "(b)", "align": "left", "baseline": "top", "fontSize": 25, "fontWeight": "bold"}, "encoding": {"x": {"datum": -0.257}, "y": {"datum": 33.04}}}
   ]},
   {"width": 380, "height": 306, "layer": [
    {"data": {"name": "pce"}, "mark": {"type": "line", "strokeWidth": 3}, "encoding": {
      "x": {"field": "t", "type": "quantitative", "scale": {"domain": [-3, 600], "nice": false}, "axis": {"values": [0, 50, 100, 150, 200, 250, 300, 350, 400, 450, 500, 550, 600], "title": "Time (s)", "labelExpr": "datum.value % 100 == 0 ? datum.label : ''", "tickSize": {"condition": {"test": "datum.value % 100 == 0", "value": 7}, "value": 4}}},
      "y": {"field": "p", "type": "quantitative", "scale": {"domain": [0, 25], "nice": false}, "axis": {"values": [0, 2.5, 5, 7.5, 10, 12.5, 15, 17.5, 20, 22.5, 25], "title": "PCE (%)", "labelExpr": "datum.value % 5 == 0 ? datum.label : ''", "tickSize": {"condition": {"test": "datum.value % 5 == 0", "value": 7}, "value": 4}}},
      "color": {"field": "s", "type": "nominal", "scale": {"domain": ["Control", "Target"], "range": ["#0000ff", "#ff0000"]}, "legend": {"orient": "none", "legendX": 230, "legendY": 240, "symbolType": "M-2.5,0H2.5", "symbolSize": 576, "symbolStrokeWidth": 3.5, "rowPadding": 6, "labelOffset": 25}}}},
    {"data": {"name": "pceText"}, "mark": {"type": "text", "fontSize": 24, "fontWeight": "bold", "align": "center", "baseline": "middle"}, "encoding": {"x": {"field": "t", "type": "quantitative"}, "y": {"field": "p", "type": "quantitative"}, "text": {"field": "label"}, "color": {"field": "s", "type": "nominal", "legend": null}}},
    {"data": {"values": [{}]}, "mark": {"type": "text", "text": "(c)", "align": "left", "baseline": "top", "fontSize": 25, "fontWeight": "bold"}, "encoding": {"x": {"datum": -172}, "y": {"datum": 24.84}}}
   ]}
  ], "spacing": 20}
 ], "spacing": 47},
 {"resolve": {"scale": {"color": "independent", "stroke": "independent"}, "legend": {"color": "independent", "stroke": "independent"}},
  "hconcat": [
  {"width": 379, "height": 307, "layer": [
   {"layer": [
    {"data": {"name": "eqe"}, "mark": {"type": "line", "strokeWidth": 2.5}, "encoding": {
      "x": {"field": "w", "type": "quantitative", "scale": {"domain": [300, 1000], "nice": false, "zero": false}, "axis": {"values": [300, 400, 500, 600, 700, 800, 900, 1000], "format": "d", "title": "Wavelength (nm)", "labelPadding": 7, "labelExpr": "datum.value % 200 == 0 ? datum.label : ''", "tickSize": {"condition": {"test": "datum.value % 200 == 0", "value": 7}, "value": 4}}},
      "y": {"field": "e", "type": "quantitative", "scale": {"domain": [0, 100], "nice": false}, "axis": {"values": [0, 10, 20, 30, 40, 50, 60, 70, 80, 90, 100], "title": "EQE (%)", "labelExpr": "datum.value % 20 == 0 ? datum.label : ''", "tickSize": {"condition": {"test": "datum.value % 20 == 0", "value": 7}, "value": 4}}},
      "color": {"field": "s", "type": "nominal", "scale": {"domain": ["Control", "Target"], "range": ["#0000ff", "#ff0000"]}, "legend": {"orient": "none", "legendX": 213, "legendY": 217, "symbolType": "M-2.5,0H2.5M0.25,0A0.25,0.25 0 1,1 -0.25,0A0.25,0.25 0 1,1 0.25,0", "symbolSize": 576, "symbolStrokeWidth": 3, "symbolFillColor": "white", "rowPadding": 6, "labelOffset": 23}}}},
    {"data": {"name": "eqe"}, "mark": {"type": "point", "filled": false, "fill": "white", "size": 14, "strokeWidth": 1.2, "opacity": 1}, "encoding": {"x": {"field": "w", "type": "quantitative"}, "y": {"field": "e", "type": "quantitative"}, "color": {"field": "s", "type": "nominal"}}},
    {"data": {"values": [{}]}, "mark": {"type": "text", "text": "(d)", "align": "left", "baseline": "top", "fontSize": 25, "fontWeight": "bold"}, "encoding": {"x": {"datum": 95}, "y": {"datum": 106.5}}}
   ]},
   {"layer": [
    {"data": {"name": "ij"}, "mark": {"type": "line", "strokeWidth": 3}, "encoding": {
      "x": {"field": "w", "type": "quantitative"},
      "y": {"field": "j", "type": "quantitative", "scale": {"domain": [0, 31.9], "nice": false}, "axis": {"orient": "right", "values": [0, 2.5, 5, 7.5, 10, 12.5, 15, 17.5, 20, 22.5, 25, 27.5, 30], "title": "Integrated Jsc(mA cm⁻²)", "titleAngle": 270, "titleBaseline": "top", "titlePadding": 8, "labelExpr": "datum.value % 5 == 0 ? datum.label : ''", "tickSize": {"condition": {"test": "datum.value % 5 == 0", "value": 7}, "value": 4}}},
      "color": {"field": "s", "type": "nominal", "legend": null}}}
   ]}
  ], "resolve": {"scale": {"y": "independent"}}},
  {"width": 379, "height": 306, "layer": [
   {"data": {"values": [{}]}, "mark": {"type": "rule", "strokeDash": [2, 6], "strokeWidth": 2, "color": "black"}, "encoding": {"y": {"datum": 0.9}}},
   {"data": {"name": "stab"}, "mark": {"type": "line", "strokeWidth": 3}, "encoding": {
      "x": {"field": "t", "type": "quantitative", "scale": {"domain": [0, 2400], "nice": false}, "axis": {"values": [0, 300, 600, 900, 1200, 1500, 1800, 2100, 2400], "format": "d", "title": "Time (h)", "titlePadding": 18, "labelExpr": "datum.value % 600 == 0 ? datum.label : ''", "tickSize": {"condition": {"test": "datum.value % 600 == 0", "value": 7}, "value": 4}}},
      "y": {"field": "n", "type": "quantitative", "scale": {"domain": [0, 1.1], "nice": false}, "axis": {"values": [0, 0.1, 0.2, 0.3, 0.4, 0.5, 0.6, 0.7, 0.8, 0.9, 1.0], "title": "Normalized PCE", "labelExpr": "abs(datum.value*5 - round(datum.value*5)) < 0.0001 ? format(datum.value, '.1f') : ''", "tickSize": {"condition": {"test": "abs(datum.value*5 - round(datum.value*5)) < 0.0001", "value": 7}, "value": 4}}},
      "color": {"field": "s", "type": "nominal", "scale": {"domain": ["Control", "Target"], "range": ["#0000ff", "#ff0000"]}, "legend": {"orient": "none", "legendX": 234, "legendY": 200, "symbolType": "M-2.5,0H2.5M-0.25,-0.25H0.25V0.25H-0.25Z", "symbolSize": 576, "symbolStrokeWidth": 3, "rowPadding": 6, "labelOffset": 23}}}},
   {"data": {"name": "stab"}, "mark": {"type": "point", "shape": "square", "filled": true, "size": 30, "opacity": 1}, "encoding": {"x": {"field": "t", "type": "quantitative"}, "y": {"field": "n", "type": "quantitative"}, "color": {"field": "s", "type": "nominal"}}},
   {"data": {"values": [{"t": 50, "n": 0.12, "label": "Under N₂-Condition"}]}, "mark": {"type": "text", "fontSize": 25, "fontWeight": "bold", "align": "left", "baseline": "middle", "color": "black"}, "encoding": {"x": {"field": "t", "type": "quantitative"}, "y": {"field": "n", "type": "quantitative"}, "text": {"field": "label"}}},
   {"data": {"values": [{}]}, "mark": {"type": "text", "text": "(e)", "align": "left", "baseline": "top", "fontSize": 25, "fontWeight": "bold"}, "encoding": {"x": {"datum": -627}, "y": {"datum": 1.1935}}}
  ]}
 ], "spacing": 1}
], "spacing": -14
}
